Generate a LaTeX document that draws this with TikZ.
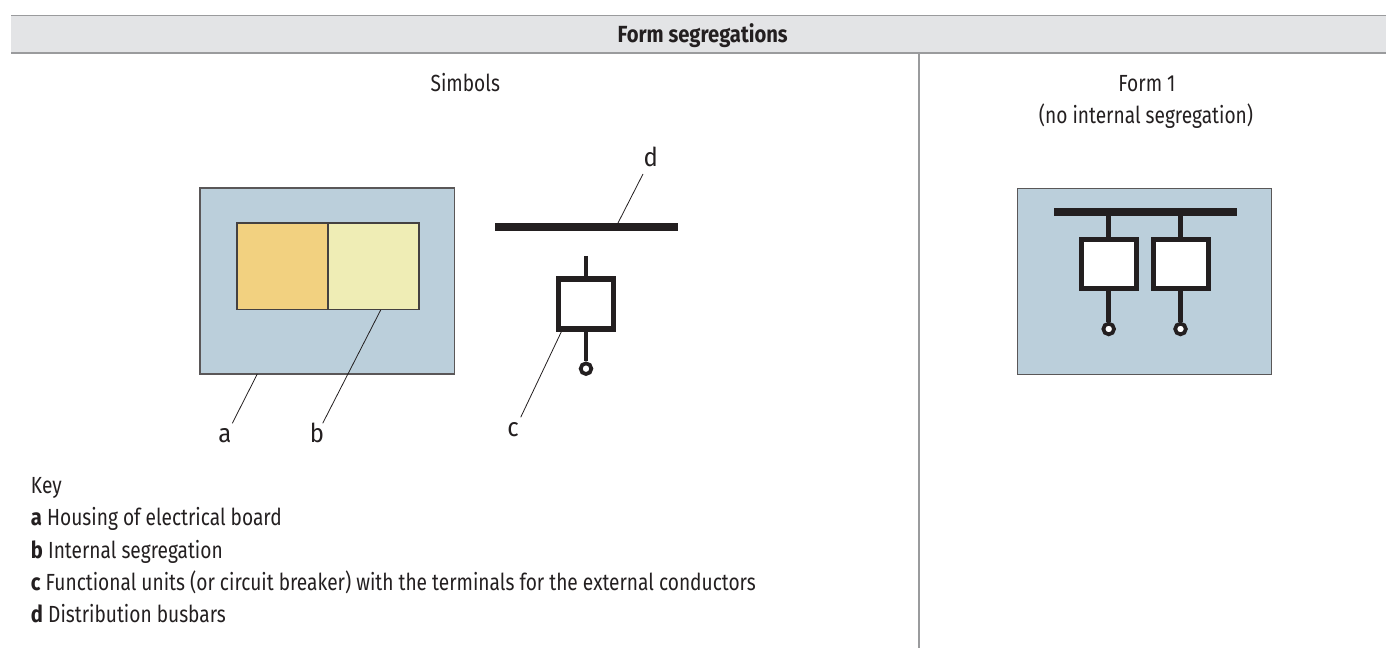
\documentclass[tikz,border=0pt]{standalone}
\usepackage{fontspec}
\setmainfont[FakeStretch=0.82,BoldFeatures={FakeStretch=0.866}]{Fira Sans}
\newfontfamily\calloutfont[FakeStretch=0.92]{Fira Sans}
\definecolor{housing}{HTML}{BBCFDB}
\definecolor{band}{HTML}{E3E4E6}
\definecolor{rulec}{HTML}{9A9B9D}
\definecolor{ink}{HTML}{231F20}
\definecolor{orangefill}{HTML}{F2D180}
\definecolor{yellowfill}{HTML}{EFEDB5}
\tikzset{
  x=0.75pt,y=-0.75pt,
  txt/.style={font=\fontsize{17.5}{20}\selectfont,text=ink,inner sep=0pt,outer sep=0pt},
  keyline/.style={txt,anchor=base west},
  callout/.style={txt,font=\calloutfont\fontsize{19.5}{24}\selectfont,anchor=base},
  housingbox/.style={draw=ink!75,line width=1pt,fill=housing},
  segbox/.style={draw=ink!85,line width=1pt},
  leader/.style={draw=ink,line width=0.6pt},
  bus/.style={draw=ink,line width=6pt},
  stem/.style={draw=ink,line width=3.6pt},
  unit/.style={draw=ink,line width=4pt,fill=white},
  term/.style={draw=ink,line width=2.8pt,fill=white,circle,minimum size=8pt,inner sep=0pt},
  rulel/.style={draw=rulec,line width=1pt}
}
\begin{document}
\begin{tikzpicture}
\useasboundingbox (0,0) rectangle (1386,648);
% header
\fill[band] (11,15) rectangle (1386,53);
\coordinate (hl1) at (11,15.5); \coordinate (hr1) at (1386,15.5);
\coordinate (hl2) at (11,53); \coordinate (hr2) at (1386,53);
\coordinate (vt) at (919,53); \coordinate (vb) at (919,648);
\draw[rulel] (hl1) -- (hr1);
\draw[rulel] (hl2) -- (hr2);
\draw[rulel] (vt) -- (vb);
\node[txt,anchor=base] (title) at (702.7,43) {\bfseries Form segregations};
\node[txt,anchor=base] (simb) at (465.3,92) {Simbols};
\node[txt,anchor=base] (f1a) at (1147,92) {Form 1};
\node[txt,anchor=base] (f1b) at (1146,123.5) {(no internal segregation)};
% left housing
\draw[housingbox] (200,188) rectangle (454.7,374);
\fill[orangefill] (237,223) rectangle (328,309.3);
\fill[yellowfill] (328,223) rectangle (419,309.3);
\draw[segbox] (237,223) rectangle (419,309.3);
\draw[segbox] (328,223) -- (328,309.3);
% left symbols
\coordinate (b1) at (495,227); \coordinate (b2) at (678,227);
\draw[bus] (b1) -- (b2);
\coordinate (st) at (586,256);
\node[term] (t0) at (586,368.7) {};
\draw[stem] (st) -- (586,279);
\draw[stem] (586,329) -- (t0.north);
\draw[unit] (558.5,279) rectangle (613.5,329);
% leaders and labels
\coordinate (la) at (257.3,374); \coordinate (lae) at (232.3,423.3);
\coordinate (lb) at (380.7,310); \coordinate (lbe) at (322.7,423.3);
\coordinate (lc) at (561.7,331); \coordinate (lce) at (520.7,417.3);
\coordinate (ld) at (618,223); \coordinate (lde) at (643,174);
\draw[leader] (la) -- (lae);
\draw[leader] (lb) -- (lbe);
\draw[leader] (lc) -- (lce);
\draw[leader] (ld) -- (lde);
\node[callout] (a) at (225,442.7) {a};
\node[callout] (b) at (317,442.7) {b};
\node[callout] (c) at (513,436.7) {c};
\node[callout] (d) at (650.7,166.7) {d};
% key
\node[keyline] (k0) at (31,494) {Key};
\node[keyline] (k1) at (31,526) {\textbf{a} Housing of electrical board};
\node[keyline] (k2) at (31,558) {\textbf{b} Internal segregation};
\node[keyline] (k3) at (31,590) {\textbf{c} Functional units (or circuit breaker) with the terminals for the external conductors};
\node[keyline] (k4) at (31,622) {\textbf{d} Distribution busbars};
% right housing
\draw[housingbox] (1017.3,188.3) rectangle (1271.7,374.3);
\coordinate (rb1) at (1054,212); \coordinate (rb2) at (1237,212);
\node[term] (t1) at (1108.7,329) {};
\node[term] (t2) at (1180.5,329) {};
\draw[stem] (1108.7,212) -- (1108.7,240) (1180.5,212) -- (1180.5,240);
\draw[stem] (1108.7,288) -- (t1.north) (1180.5,288) -- (t2.north);
\draw[bus] (rb1) -- (rb2);
\draw[unit] (1081.5,239.5) rectangle (1136.5,288.5);
\draw[unit] (1153.5,239.5) rectangle (1208.5,288.5);
\end{tikzpicture}
\end{document}
